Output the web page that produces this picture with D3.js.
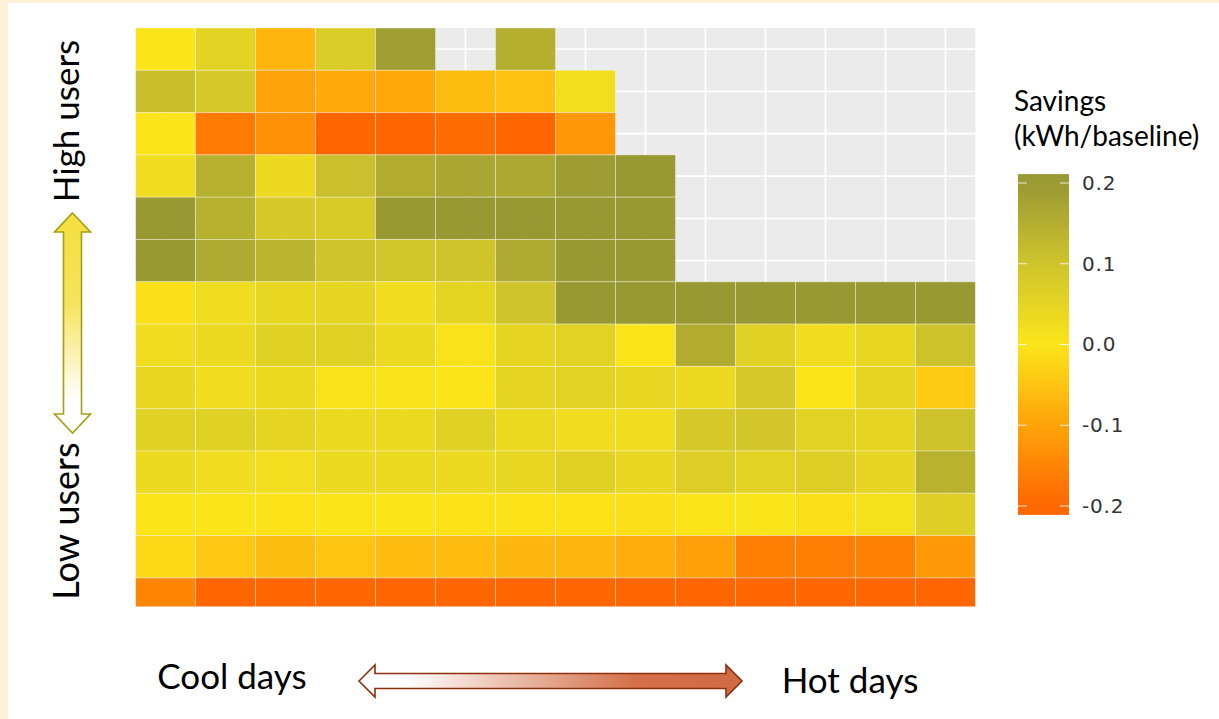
<!DOCTYPE html>
<html>
<head>
<meta charset="utf-8">
<script src="https://cdn.jsdelivr.net/npm/d3@7"></script>
<style>
  html, body { margin: 0; padding: 0; background: #ffffff; }
  svg { display: block; }
</style>
</head>
<body>
<svg id="chart" width="1219" height="719"></svg>
<script>
// ---- data ----
const dayBins = ["D1","D2","D3","D4","D5","D6","D7","D8","D9","D10","D11","D12","D13","D14"]; // cool -> hot
const userGroups = ["U14","U13","U12","U11","U10","U9","U8","U7","U6","U5","U4","U3","U2","U1"]; // high -> low users
const savings = [
  [0.0, 0.055, -0.072, 0.075, 0.188, null, 0.148, null, null, null, null, null, null, null],
  [0.112, 0.085, -0.1, -0.09, -0.094, -0.06, -0.055, 0.022, null, null, null, null, null, null],
  [-0.002, -0.165, -0.13, -0.22, -0.22, -0.19, -0.21, -0.12, null, null, null, null, null, null],
  [0.025, 0.145, 0.035, 0.11, 0.155, 0.17, 0.165, 0.19, 0.2, null, null, null, null, null],
  [0.21, 0.145, 0.085, 0.08, 0.21, 0.21, 0.205, 0.205, 0.205, null, null, null, null, null],
  [0.21, 0.16, 0.135, 0.1, 0.095, 0.1, 0.16, 0.205, 0.21, null, null, null, null, null],
  [-0.008, 0.025, 0.043, 0.048, 0.025, 0.05, 0.1, 0.21, 0.22, 0.21, 0.21, 0.21, 0.21, 0.21],
  [0.025, 0.034, 0.061, 0.061, 0.034, 0.007, 0.048, 0.057, 0.0, 0.155, 0.061, 0.025, 0.043, 0.104],
  [0.043, 0.025, 0.034, 0.007, 0.007, 0.0, 0.048, 0.057, 0.043, 0.034, 0.084, 0.0, 0.048, -0.04],
  [0.061, 0.061, 0.048, 0.034, 0.034, 0.061, 0.034, 0.025, 0.025, 0.084, 0.093, 0.057, 0.048, 0.104],
  [0.034, 0.025, 0.02, 0.034, 0.034, 0.034, 0.043, 0.061, 0.043, 0.07, 0.057, 0.068, 0.048, 0.143],
  [0.0, 0.0, -0.005, 0.0, 0.0, -0.005, -0.005, -0.005, -0.008, 0.0, 0.002, -0.008, 0.014, 0.068],
  [-0.02, -0.045, -0.06, -0.05, -0.064, -0.064, -0.069, -0.072, -0.085, -0.105, -0.16, -0.16, -0.156, -0.117],
  [-0.15, -0.22, -0.22, -0.22, -0.22, -0.22, -0.22, -0.22, -0.22, -0.22, -0.22, -0.22, -0.22, -0.22]
];
const colorStops = [-0.2, -0.1, 0.0, 0.1, 0.2];
const colorValues = ["#ff6600", "#ffa30a", "#fbe51a", "#cfc42c", "#999934"];
const legendTicks = [0.2, 0.1, 0.0, -0.1, -0.2];
const legendTitle = ["Savings", "(kWh/baseline)"];
const yAxisLabels = ["High users", "Low users"];
const xAxisLabels = ["Cool days", "Hot days"];

// ---- layout ----
const svg = d3.select("#chart");
const W = 1219, H = 719;
const panel = { left: 135.5, top: 28, width: 840, rowH: 42.3, bottomClip: 606.5 };

const x = d3.scaleBand().domain(dayBins).range([panel.left, panel.left + panel.width]).padding(0);
const y = d3.scaleBand().domain(userGroups).range([panel.top, panel.top + panel.rowH * userGroups.length]).padding(0);
const color = d3.scaleLinear().domain(colorStops).range(colorValues).clamp(true);

// slide background strips
svg.append("rect").attr("x", 0).attr("y", 0).attr("width", W).attr("height", H).attr("fill", "#ffffff");
svg.append("rect").attr("x", 0).attr("y", 0).attr("width", 8).attr("height", H).attr("fill", "#fef2d6");
svg.append("rect").attr("x", 0).attr("y", 0).attr("width", W).attr("height", 3).attr("fill", "#fef2d6");

// panel
const defs = svg.append("defs");
defs.append("clipPath").attr("id", "panelClip")
  .append("rect")
  .attr("x", panel.left).attr("y", panel.top)
  .attr("width", panel.width).attr("height", panel.bottomClip - panel.top);

const g = svg.append("g").attr("clip-path", "url(#panelClip)");
g.append("rect")
  .attr("x", panel.left).attr("y", panel.top)
  .attr("width", panel.width).attr("height", panel.bottomClip - panel.top)
  .attr("fill", "#ebebeb");

// gridlines at category centers
g.selectAll("line.vgrid").data(dayBins).join("line")
  .attr("class", "vgrid")
  .attr("x1", d => x(d) + x.bandwidth() / 2).attr("x2", d => x(d) + x.bandwidth() / 2)
  .attr("y1", panel.top).attr("y2", panel.bottomClip)
  .attr("stroke", "#ffffff").attr("stroke-width", 1.8);
g.selectAll("line.hgrid").data(userGroups).join("line")
  .attr("class", "hgrid")
  .attr("x1", panel.left).attr("x2", panel.left + panel.width)
  .attr("y1", d => y(d) + y.bandwidth() / 2).attr("y2", d => y(d) + y.bandwidth() / 2)
  .attr("stroke", "#ffffff").attr("stroke-width", 1.8);

// tiles
const cells = [];
savings.forEach((row, i) => row.forEach((v, j) => {
  if (v !== null) cells.push({ row: userGroups[i], col: dayBins[j], value: v });
}));
g.selectAll("rect.tile").data(cells).join("rect")
  .attr("class", "tile")
  .attr("x", d => x(d.col)).attr("y", d => y(d.row))
  .attr("width", x.bandwidth()).attr("height", y.bandwidth())
  .attr("fill", d => color(d.value))
  .attr("stroke", "rgba(255,255,255,0.35)")
  .attr("stroke-width", 1);

// ---- legend ----
const lg = d3.scaleLinear().domain([-0.2, 0.2]).range([506, 183]);
const barX = 1018, barW = 51;
const grad = defs.append("linearGradient").attr("id", "legendGrad")
  .attr("x1", 0).attr("y1", 1).attr("x2", 0).attr("y2", 0);
const barMin = -0.211, barMax = 0.211;
d3.range(0, 1.0001, 0.05).forEach(t => {
  const v = barMin + t * (barMax - barMin);
  grad.append("stop").attr("offset", t).attr("stop-color", color(v));
});
svg.append("rect")
  .attr("x", barX).attr("y", lg(barMax))
  .attr("width", barW).attr("height", lg(barMin) - lg(barMax))
  .attr("fill", "url(#legendGrad)");
// white colourbar ticks
legendTicks.forEach(t => {
  svg.append("line").attr("x1", barX).attr("x2", barX + 9)
    .attr("y1", lg(t)).attr("y2", lg(t)).attr("stroke", "#ffffff").attr("stroke-opacity", 0.8).attr("stroke-width", 1);
  svg.append("line").attr("x1", barX + barW - 9).attr("x2", barX + barW)
    .attr("y1", lg(t)).attr("y2", lg(t)).attr("stroke", "#ffffff").attr("stroke-opacity", 0.8).attr("stroke-width", 1);
});
const legendAxis = d3.axisRight(lg).tickValues(legendTicks).tickSize(0).tickPadding(0)
  .tickFormat(d => d.toFixed(1));
const la = svg.append("g").attr("transform", `translate(${barX + barW + 13},0)`).call(legendAxis);
la.select(".domain").remove();
la.selectAll("text")
  .attr("font-family", "'DejaVu Sans', sans-serif")
  .attr("font-size", 20)
  .attr("letter-spacing", 0.8)
  .attr("fill", "#333333");

svg.append("text").attr("x", 1014).attr("y", 111)
  .attr("font-family", "Lato, sans-serif").attr("font-size", 28).attr("fill", "#000")
  .text(legendTitle[0]);
svg.append("text").attr("x", 1014).attr("y", 146)
  .attr("font-family", "Lato, sans-serif").attr("font-size", 28).attr("fill", "#000")
  .text(legendTitle[1]);

// ---- vertical users arrow ----
const vGrad = defs.append("linearGradient").attr("id", "vArrowGrad")
  .attr("x1", 0).attr("y1", 0).attr("x2", 0).attr("y2", 1);
vGrad.append("stop").attr("offset", 0).attr("stop-color", "#f5df40");
vGrad.append("stop").attr("offset", 0.4).attr("stop-color", "#f6e35a");
vGrad.append("stop").attr("offset", 0.85).attr("stop-color", "#ffffff");
vGrad.append("stop").attr("offset", 1).attr("stop-color", "#ffffff");
const ax = 72.5, aTop = 213, aBot = 433, headH = 19, headHalf = 18, shaftHalf = 9;
const vPath = [
  [ax, aTop], [ax + headHalf, aTop + headH], [ax + shaftHalf, aTop + headH],
  [ax + shaftHalf, aBot - headH], [ax + headHalf, aBot - headH], [ax, aBot],
  [ax - headHalf, aBot - headH], [ax - shaftHalf, aBot - headH],
  [ax - shaftHalf, aTop + headH], [ax - headHalf, aTop + headH]
];
svg.append("path").attr("d", d3.line()(vPath) + "Z")
  .attr("fill", "url(#vArrowGrad)").attr("stroke", "#a3a014").attr("stroke-width", 1.6)
  .attr("stroke-linejoin", "miter");

// ---- horizontal days arrow ----
const hGrad = defs.append("linearGradient").attr("id", "hArrowGrad")
  .attr("x1", 0).attr("y1", 0).attr("x2", 1).attr("y2", 0);
hGrad.append("stop").attr("offset", 0).attr("stop-color", "#ffffff");
hGrad.append("stop").attr("offset", 0.12).attr("stop-color", "#ffffff");
hGrad.append("stop").attr("offset", 0.72).attr("stop-color", "#d3704a");
hGrad.append("stop").attr("offset", 1).attr("stop-color", "#d06a45");
const hy = 681, hL = 359, hR = 742, hHeadW = 16, hHeadHalf = 16, hShaftHalf = 7.5;
const hPath = [
  [hL, hy], [hL + hHeadW, hy - hHeadHalf], [hL + hHeadW, hy - hShaftHalf],
  [hR - hHeadW, hy - hShaftHalf], [hR - hHeadW, hy - hHeadHalf], [hR, hy],
  [hR - hHeadW, hy + hHeadHalf], [hR - hHeadW, hy + hShaftHalf],
  [hL + hHeadW, hy + hShaftHalf], [hL + hHeadW, hy + hHeadHalf]
];
svg.append("path").attr("d", d3.line()(hPath) + "Z")
  .attr("fill", "url(#hArrowGrad)").attr("stroke", "#8e300c").attr("stroke-width", 1.6)
  .attr("stroke-linejoin", "miter");

// ---- axis captions ----
svg.append("text")
  .attr("transform", "translate(79,121) rotate(-90)")
  .attr("text-anchor", "middle")
  .attr("font-family", "Lato, sans-serif").attr("font-size", 35).attr("fill", "#000")
  .text(yAxisLabels[0]);
svg.append("text")
  .attr("transform", "translate(79,521) rotate(-90)")
  .attr("text-anchor", "middle")
  .attr("font-family", "Lato, sans-serif").attr("font-size", 36).attr("fill", "#000")
  .text(yAxisLabels[1]);
svg.append("text")
  .attr("x", 232).attr("y", 689).attr("text-anchor", "middle")
  .attr("font-family", "Lato, sans-serif").attr("font-size", 35).attr("fill", "#000")
  .text(xAxisLabels[0]);
svg.append("text")
  .attr("x", 850).attr("y", 693).attr("text-anchor", "middle")
  .attr("font-family", "Lato, sans-serif").attr("font-size", 35).attr("fill", "#000")
  .text(xAxisLabels[1]);
</script>
</body>
</html>
